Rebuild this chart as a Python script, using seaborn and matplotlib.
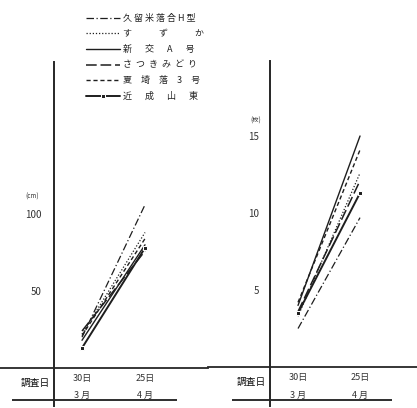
import pandas as pd
import seaborn as sns
import matplotlib.pyplot as plt

sns.set_style("white")
plt.rcParams['font.family'] = ['Noto Sans CJK JP', 'DejaVu Sans']

# Data
dates = [1, 2]
date_days = ["30日", "25日"]
date_months = ["3 月", "4 月"]
varieties = ["久 留 米 落 合 H 型", "す　　　ず　　　か", "新　  交　  A　  号",
             "さ  つ  き  み  ど  り", "夏　埼　落　3　号", "近　  成　  山　  東"]
height_cm = [[20, 106], [22, 88], [18, 80], [24, 76], [21, 84], [13, 78]]
leaves = [[2.5, 9.7], [3.3, 12.6], [4.0, 15.0], [3.6, 12.1], [4.2, 14.1], [3.5, 11.3]]

styles = [
    dict(linestyle=(0, (6, 2, 1, 2)), linewidth=0.9),
    dict(linestyle=(0, (1, 1.5)), linewidth=0.9),
    dict(linestyle="-", linewidth=1.0),
    dict(linestyle=(0, (7, 2.5)), linewidth=1.1),
    dict(linestyle=(0, (3, 2)), linewidth=1.0),
    dict(linestyle="-", linewidth=1.4, marker="s", markersize=3),
]
ink = "#1e1e1e"

fig = plt.figure(figsize=(4.17, 4.08), dpi=100)
ax1 = fig.add_axes([0, 0, 208 / 417, 1])
ax2 = fig.add_axes([208 / 417, 0, 209 / 417, 1])

for i, name in enumerate(varieties):
    df = pd.DataFrame({"date": dates, "v": height_cm[i]})
    sns.lineplot(data=df, x="date", y="v", ax=ax1, color=ink, label=name, **styles[i])
    df2 = pd.DataFrame({"date": dates, "v": leaves[i]})
    sns.lineplot(data=df2, x="date", y="v", ax=ax2, color=ink, **styles[i])

def setup(ax, xlim, ylim, spine_x, spine_bounds, yticks, unit, unit_xy, bottom_y, bottom_x, pad):
    ax.set_xlim(*xlim)
    ax.set_ylim(*ylim)
    for s in ["top", "right"]:
        ax.spines[s].set_visible(False)
    ax.spines["left"].set_position(("data", spine_x))
    ax.spines["left"].set_bounds(*spine_bounds)
    ax.spines["left"].set_linewidth(1.4)
    ax.spines["bottom"].set_position(("data", 0))
    ax.spines["bottom"].set_linewidth(1.3)
    ax.spines["bottom"].set_bounds(*xlim)
    ax.set_yticks(yticks)
    ax.set_yticklabels([str(t) for t in yticks], fontsize=7, color="#333")
    ax.tick_params(axis="y", direction="in", length=3, width=1, pad=pad)
    ax.set_xticks(dates)
    ax.set_xticklabels(date_days, fontsize=6.5, color="#333")
    ax.tick_params(axis="x", direction="in", length=2, width=1, pad=4)
    for d, m in zip(dates, date_months):
        ax.text(d, bottom_y, m, ha="center", va="bottom", fontsize=6.5, color="#333")
    ax.text(spine_x - 0.07, bottom_y * 0.46, "調査日", ha="right", va="center", fontsize=7,
            color="#111")
    ax.text(unit_xy[0], unit_xy[1], unit, ha="left", va="center", fontsize=4.5, color="#333")
    ax.hlines(bottom_y, bottom_x[0], bottom_x[1], color=ink, linewidth=1.3)
    ax.set_xlabel("")
    ax.set_ylabel("")
    ax.patch.set_alpha(0)

# left panel: pixel mapping x = 1 + (px-82)/63, y = (368-py)/1.54
setup(ax1, (-0.302, 3.0), (-26, 239), 0.556, (-25, 199), [50, 100], "(cm)", (1 - 57 / 63, 111),
      -20.8, (1 - 70 / 63, 1 + 95 / 63), 9)
# right panel: x = 1 + (px-298)/62, y = (367-py)/15.4
setup(ax2, (-0.452, 2.919), (-2.66, 23.83), 0.548, (-2.53, 19.87), [5, 10, 15], "(枚)",
      (1 - 48 / 62, 16.0), -2.14, (1 - 66 / 62, 1 + 94 / 62), 8)

leg = ax1.legend(loc="upper left", bbox_to_anchor=(78 / 208, 1 - 6 / 408), frameon=False,
                 fontsize=6.5, handlelength=3.8, labelspacing=0.72, handletextpad=0.3)
for t in leg.get_texts():
    t.set_color("#222")

fig.savefig("out.png", dpi=100)
